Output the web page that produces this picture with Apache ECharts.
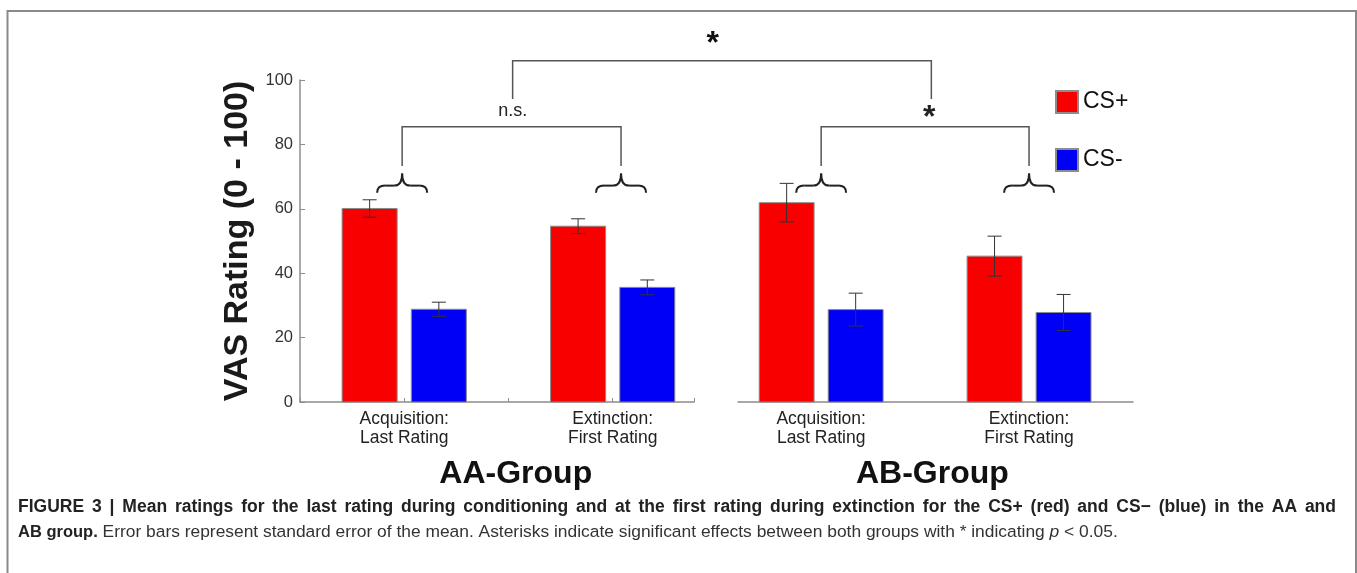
<!DOCTYPE html>
<html>
<head>
<meta charset="utf-8">
<script src="https://cdn.jsdelivr.net/npm/echarts@6/dist/echarts.min.js"></script>
<style>
  html, body { margin: 0; padding: 0; background: #fff; }
  #main { width: 1357px; height: 573px; }
</style>
</head>
<body>
<div id="main"></div>
<script>
// groups and phases
const groups = ['AA-Group', 'AB-Group'];
const phases = ['Acquisition:\nLast Rating', 'Extinction:\nFirst Rating'];
const yTicks = [0, 20, 40, 60, 80, 100];

// mean VAS ratings and standard errors
const aaCSplus = [60.1, 54.6];
const aaCSplusSE = [2.7, 2.3];
const aaCSminus = [28.8, 35.6];
const aaCSminusSE = [2.2, 2.3];
const abCSplus = [61.9, 45.3];
const abCSplusSE = [6.0, 6.2];
const abCSminus = [28.7, 27.8];
const abCSminusSE = [5.1, 5.6];

// significance annotations (grid, x from, x to, leg bottom, bar level, label, label x, label y)
const innerBrackets = [
  [0, 0.99, 2.04, 73.3, 85.5, 'n.s.', 1.52, 90.5],
  [1, 1.0, 2.0, 73.3, 85.5, '*', 1.52, 88]
];
const topBracket = [1.52, 1.53, 94.1, 106, '*', 2.48, 111];

const captionLine1 = 'FIGURE 3 | Mean ratings for the last rating during conditioning and at the first rating during extinction for the CS+ (red) and CS\u2212 (blue) in the AA and';
const captionLine2 = '{b|AB group.} Error bars represent standard error of the mean. Asterisks indicate significant effects between both groups with * indicating {i|p} < 0.05.';

const RED = '#f80000';
const BLUE = '#0000f6';
const BAR_W = 0.264;
const OFFSET = 0.166;

function toData(vals, se) {
  return vals.map((v, i) => [i + 1, v, se[i]]);
}

function barItem(offset, color) {
  return function (params, api) {
    const x = api.value(0) + offset;
    const v = api.value(1);
    const se = api.value(2);
    const base = api.coord([x, 0]);
    const top = api.coord([x, v]);
    const hi = api.coord([x, v + se]);
    const lo = api.coord([x, v - se]);
    const w = api.size([BAR_W, 0])[0];
    const cap = 7;
    return {
      type: 'group',
      children: [
        { type: 'rect', shape: { x: top[0] - w / 2, y: top[1], width: w, height: base[1] - top[1] },
          style: { fill: color, stroke: '#8c8c8c', lineWidth: 1 } },
        { type: 'line', shape: { x1: hi[0], y1: hi[1], x2: lo[0], y2: lo[1] }, style: { stroke: '#333', lineWidth: 1 } },
        { type: 'line', shape: { x1: hi[0] - cap, y1: hi[1], x2: hi[0] + cap, y2: hi[1] }, style: { stroke: '#333', lineWidth: 1 } },
        { type: 'line', shape: { x1: lo[0] - cap, y1: lo[1], x2: lo[0] + cap, y2: lo[1] }, style: { stroke: '#333', lineWidth: 1 } }
      ]
    };
  };
}

function barSeries(name, gridIdx, vals, se, offset, color) {
  return {
    name: name,
    type: 'custom',
    xAxisIndex: gridIdx,
    yAxisIndex: gridIdx,
    itemStyle: { color: color, borderColor: '#8c8c8c', borderWidth: 1 },
    renderItem: barItem(offset, color),
    data: toData(vals, se),
    clip: false,
    z: 2
  };
}

function phaseLabel(v) {
  if (Math.abs(v - 1) < 1e-6) return phases[0];
  if (Math.abs(v - 2) < 1e-6) return phases[1];
  return '';
}

const xLabel = {
  formatter: phaseLabel,
  color: '#222',
  fontSize: 17.5,
  lineHeight: 19,
  margin: 8,
  fontFamily: 'Liberation Sans',
  showMinLabel: true,
  showMaxLabel: true
};

const chart = echarts.init(document.getElementById('main'));

chart.setOption({
  animation: false,
  textStyle: { fontFamily: 'Liberation Sans' },
  grid: [
    { left: 300, width: 394, top: 80, height: 322 },
    { left: 738, width: 395, top: 80, height: 322 }
  ],
  xAxis: [
    {
      type: 'value', gridIndex: 0, min: 0.5, max: 2.39, interval: 0.5,
      splitLine: { show: false },
      axisLine: { lineStyle: { color: '#8c8c8c', width: 1.5 } },
      axisTick: { inside: true, length: 4, lineStyle: { color: '#8c8c8c' } },
      axisLabel: xLabel
    },
    {
      type: 'value', gridIndex: 1, min: 0.6, max: 2.5, interval: 0.2,
      splitLine: { show: false },
      axisLine: { lineStyle: { color: '#8c8c8c', width: 1.5 } },
      axisTick: { show: false },
      axisLabel: xLabel
    }
  ],
  yAxis: [
    {
      type: 'value', gridIndex: 0, min: yTicks[0], max: yTicks[yTicks.length - 1], interval: yTicks[1] - yTicks[0],
      name: 'VAS Rating (0 - 100)',
      nameLocation: 'middle',
      nameGap: 45,
      nameTextStyle: { fontSize: 34, fontWeight: 'bold', color: '#1a1a1a', fontFamily: 'Liberation Sans' },
      splitLine: { show: false },
      axisLine: { show: true, lineStyle: { color: '#8c8c8c', width: 1.5 } },
      axisTick: { show: true, inside: true, length: 5, lineStyle: { color: '#8c8c8c' } },
      axisLabel: { color: '#333', fontSize: 16.5, margin: 7, fontFamily: 'Liberation Sans' }
    },
    {
      type: 'value', gridIndex: 1, min: yTicks[0], max: yTicks[yTicks.length - 1],
      show: false, splitLine: { show: false }
    }
  ],
  legend: {
    data: ['CS+', 'CS-'],
    orient: 'vertical',
    left: 1050,
    top: 85,
    icon: 'rect',
    itemWidth: 22,
    itemHeight: 22,
    itemGap: 34,
    textStyle: { fontSize: 23, color: '#111', fontFamily: 'Liberation Sans' }
  },
  series: [
    barSeries('CS+', 0, aaCSplus, aaCSplusSE, -OFFSET, RED),
    barSeries('CS-', 0, aaCSminus, aaCSminusSE, OFFSET, BLUE),
    barSeries('CS+', 1, abCSplus, abCSplusSE, -OFFSET, RED),
    barSeries('CS-', 1, abCSminus, abCSminusSE, OFFSET, BLUE)
  ]
});

// annotations placed through the axes' own scales
const px = (g, x, y) => chart.convertToPixel({ gridIndex: g }, [x, y]);
const gfx = [];
const lineStyle = { stroke: '#555', lineWidth: 1.5, fill: null };
const braceStyle = { stroke: '#222', lineWidth: 2, fill: null };

function brace(g, x) {
  const c = px(g, x, 71);
  const bLeft = px(g, x - 0.12, 65);
  const mid = px(g, x, 67.2);
  const xc = c[0], yt = c[1], ym = mid[1], yb = bLeft[1];
  const hw = xc - bLeft[0];
  const r = 8;
  [-1, 1].forEach(function (s) {
    const xe = xc + s * hw;
    gfx.push({ type: 'bezierCurve', shape: { x1: xe, y1: yb, cpx1: xe, cpy1: ym, x2: xe - s * r, y2: ym }, style: braceStyle });
    gfx.push({ type: 'line', shape: { x1: xe - s * r, y1: ym, x2: xc + s * r, y2: ym }, style: braceStyle });
    gfx.push({ type: 'bezierCurve', shape: { x1: xc + s * r, y1: ym, cpx1: xc, cpy1: ym, x2: xc, y2: yt }, style: braceStyle });
  });
}

innerBrackets.forEach(function (b) {
  const g = b[0];
  const a0 = px(g, b[1], b[3]), a1 = px(g, b[1], b[4]);
  const c1 = px(g, b[2], b[4]), c0 = px(g, b[2], b[3]);
  gfx.push({ type: 'polyline', shape: { points: [a0, a1, c1, c0] }, style: lineStyle });
  brace(g, b[1]);
  brace(g, b[2]);
  const lp = px(g, b[6], b[7]);
  const star = b[5] === '*';
  gfx.push({
    type: 'text', x: lp[0], y: lp[1],
    style: {
      text: b[5], align: 'center', verticalAlign: 'middle',
      fontSize: star ? 32 : 18, fontWeight: star ? 'bold' : 'normal',
      fill: '#222', fontFamily: 'Liberation Sans'
    }
  });
});

(function () {
  const t = topBracket;
  const p0 = px(0, t[0], t[2]), p1 = px(0, t[0], t[3]);
  const q1 = px(1, t[1], t[3]), q0 = px(1, t[1], t[2]);
  gfx.push({ type: 'polyline', shape: { points: [p0, p1, q1, q0] }, style: lineStyle });
  const sp = px(0, t[5], t[6]);
  gfx.push({
    type: 'text', x: sp[0], y: sp[1],
    style: { text: t[4], align: 'center', verticalAlign: 'middle', fontSize: 32, fontWeight: 'bold', fill: '#111', fontFamily: 'Liberation Sans' }
  });
})();

// group titles under each panel
groups.forEach(function (name, g) {
  const p = px(g, 1.535, 0);
  gfx.push({
    type: 'text', x: p[0], y: p[1] + 72,
    style: { text: name, align: 'center', verticalAlign: 'middle', fontSize: 32, fontWeight: 'bold', fill: '#111', fontFamily: 'Liberation Sans' }
  });
});

// figure frame
gfx.push({ type: 'rect', shape: { x: 7.5, y: 11, width: 1348.5, height: 600 }, style: { fill: null, stroke: '#8a8a8a', lineWidth: 2 }, z: -1 });

// caption: first line justified to the frame width
(function () {
  const size = 17.5;
  const ctx = document.createElement('canvas').getContext('2d');
  ctx.font = 'bold ' + size + 'px "Liberation Sans"';
  const words = captionLine1.split(' ');
  const widths = words.map(w => ctx.measureText(w).width);
  const total = widths.reduce((a, b) => a + b, 0);
  const left = 18, right = 1336;
  const gap = (right - left - total) / (words.length - 1);
  let x = left;
  words.forEach(function (w, i) {
    gfx.push({
      type: 'text', x: x, y: 507,
      style: { text: w, verticalAlign: 'middle', fontSize: size, fontWeight: 'bold', fill: '#222', fontFamily: 'Liberation Sans' }
    });
    x += widths[i] + gap;
  });
})();
gfx.push({
  type: 'text', x: 18, y: 532,
  style: {
    text: captionLine2,
    verticalAlign: 'middle', fontSize: 17.4, fill: '#333', fontFamily: 'Liberation Sans',
    rich: {
      b: { fontSize: 16.5, fontWeight: 'bold', fill: '#222', fontFamily: 'Liberation Sans' },
      i: { fontSize: 17.4, fontStyle: 'italic', fill: '#333', fontFamily: 'Liberation Sans' }
    }
  }
});

chart.setOption({ graphic: { elements: gfx } });
</script>
</body>
</html>
